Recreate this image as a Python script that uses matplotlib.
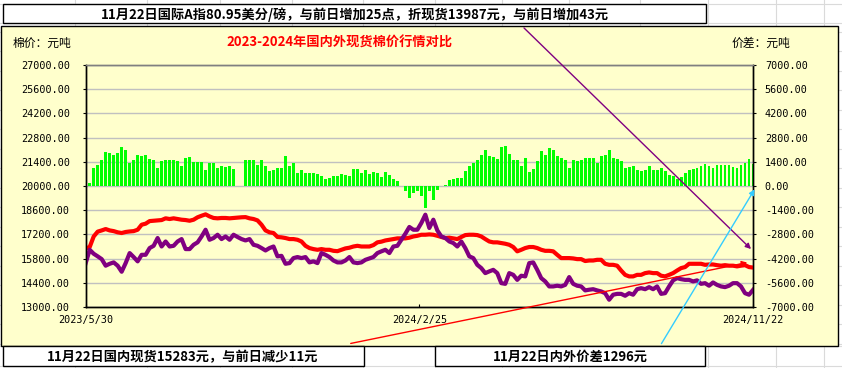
import numpy as np
import matplotlib.pyplot as plt
from matplotlib.patches import Rectangle, FancyArrowPatch
from matplotlib.lines import Line2D

plt.rcParams['font.family'] = ['Noto Sans CJK SC', 'DejaVu Sans']

# --- data ---
date_labels = ["2023/5/30", "2024/2/25", "2024/11/22"]

# domestic spot cotton price, yuan/ton (left axis)
domestic = [16390, 16470, 17080, 17360, 17430, 17510, 17430, 17390, 17320, 17280,
            17340, 17370, 17390, 17470, 17760, 17820, 17970, 17990, 18010, 18030,
            18130, 18090, 18130, 18090, 18050, 18030, 17990, 18050, 18190, 18280,
            18360, 18240, 18150, 18130, 18150, 18150, 18130, 18150, 18170, 18190,
            18200, 18130,
            18090, 18010, 17760, 17430, 17320, 17280, 17050, 17030, 16990, 16930,
            16930, 16890, 16790, 16540, 16410, 16350, 16310, 16350, 16310, 16310,
            16250, 16230, 16310, 16390, 16430, 16500, 16540, 16500, 16500, 16500,
            16580, 16740, 16780, 16850, 16890, 16930, 16970, 16970, 16970, 17010,
            17080, 17120,
            17180, 17180, 17200, 17180, 17120, 17050, 16990, 17010, 16970, 16930,
            17050, 17160, 17180, 17180, 17160, 17080, 16930, 16790, 16740, 16740,
            16700, 16660, 16600, 16470, 16220, 16310, 16410, 16470, 16470, 16410,
            16310, 16250, 16250, 16220, 16020, 15830, 15830, 15830, 15810, 15770,
            15770, 15660,
            15690, 15690, 15730, 15730, 15500, 15440, 15440, 15390, 15110, 14860,
            14770, 14770, 14860, 14860, 14960, 15000, 14960, 14960, 14810, 14770,
            14860, 14960, 15110, 15250, 15310, 15500, 15500, 15500, 15500, 15440,
            15460, 15460, 15420, 15390, 15420, 15390, 15390, 15350, 15390, 15420,
            15310, 15283]

# international A index converted to spot, yuan/ton (left axis)
international = [15540, 16310, 16080, 15930, 15770, 15390, 15500, 15580, 15390, 15040,
                 15540, 16120, 15890, 15640, 16020, 16020, 16410, 16540, 16990, 16500,
                 16790, 16500, 16540, 16790, 16930, 16350, 16350, 16600, 16740, 17080,
                 17470, 16890, 16990, 17180, 16930, 17080, 16890, 17180, 17050, 16930,
                 16850, 16930,
                 16600, 16540, 16410, 16270, 16410, 16500, 15930, 15960, 15500, 15540,
                 15830, 15890, 15830, 15890, 15580, 15640, 15540, 16120, 16020, 15890,
                 15690, 15580, 15580, 15690, 15890, 15580, 15540, 15580, 15730, 15810,
                 15890, 16120, 16220, 16310, 16120, 16500, 16540, 16890, 17240, 17630,
                 17470, 17470,
                 17860, 18340, 17570, 18050, 17430, 17080, 16990, 16790, 16700, 16500,
                 16790, 16410, 15930, 15830, 15440, 15250, 14960, 15060, 15150, 14960,
                 14380, 14340, 14960, 14860, 14570, 14810, 14770, 15540, 15580, 15150,
                 14670, 14480, 14190, 14190, 14230, 14190, 14280, 14730, 14340, 14230,
                 14190, 13960,
                 14000, 14030, 13960, 13900, 13800, 13420, 13710, 13760, 13760, 13650,
                 13800, 13710, 14030, 14090, 14030, 14150, 14030, 14190, 13760, 13800,
                 14190, 14540, 14670, 14610, 14570, 14570, 14480, 14540, 14340, 14380,
                 14230, 14420, 14280, 14190, 14150, 14230, 14380, 14380, 14190, 13800,
                 13710, 13987]

# domestic - international spread, yuan/ton (right axis); nan = holiday gap
spread = [750, 170, 1040, 1240, 1530, 1950, 1910, 1820, 1910, 2260,
          2100, 1330, 1530, 1820, 1760, 1820, 1560, 1490, 1040, 1430,
          1490, 1530, 1530, 1430, 1140, 1620, 1680, 1410, 1410, 1370,
          910, 1330, 1330, 1040, 1180, 1100, 1180, 980, np.nan, np.nan,
          1490, 1490,
          1490, 1240, 1530, 1140, 850, 910, 1040, 1040, 1720, 1140,
          1330, 750, 910, 750, 750, 750, 710, 560, 410, 460,
          600, 600, 680, 640, 560, 980, 980, 750, 910, 680,
          830, 750, 520, 790, 660, 410, 270, np.nan, -310, -700,
          -410, -310,
          -600, -1250, -310, -790, -210, -20, 80, 370, 410, 460,
          460, 850, 1140, 1330, 1530, 1820, 2070, 1760, 1680, 1560,
          2260, 2340, 1870, 1490, 1490, 1140, 1620, 790, 980, 1430,
          2010, 1820, 2200, 2070, 1760, 1620, 1530, 1040, 1490, 1430,
          1490, 1620,
          1620, 1620, 1330, 1760, 1820, 2070, 1620, 1560, 1430, 1040,
          1100, 1140, 950, 850, 910, 1140, 910, 950, 1040, 850,
          660, 560, 410, 520, 750, 910, 980, 1040, 1140, 1290,
          1180, 1040, 1240, 1240, 1240, 1220, 1100, 1040, 1240, 1330,
          1560, 1296]

W, H = 842, 368


# pixel -> figure fraction
def fx(px):
    return px / W


def fy(py):
    return 1 - py / H


fig = plt.figure(figsize=(W / 100, H / 100), dpi=100)
fig.patch.set_facecolor('white')

# spreadsheet cell grid behind everything
grid_c = '#DADADA'
for gx in [75, 147, 220, 292, 363, 435, 502, 569, 640, 708, 776, 824]:
    fig.add_artist(Line2D([fx(gx)] * 2, [0, 1], color=grid_c, lw=0.8, zorder=-5))
for gy in [4, 23, 346, 366] + list(np.arange(31.7, 346, 19.5)):
    fig.add_artist(Line2D([0, 1], [fy(gy)] * 2, color=grid_c, lw=0.8, zorder=-5))

# yellow chart panel
fig.add_artist(Rectangle((fx(1), fy(346)), fx(838) - fx(1), fy(26) - fy(346),
                         transform=fig.transFigure, facecolor='#FFFFCC',
                         edgecolor='black', lw=1, zorder=-2))

# --- plot area ---
x = np.arange(len(domestic))
ax_l = fig.add_axes([fx(85.7), fy(307), fx(753) - fx(85.7), fy(65) - fy(307)])
ax_r = ax_l.twinx()
ax_l.set_zorder(ax_r.get_zorder() + 1)
ax_l.patch.set_visible(False)
ax_r.patch.set_visible(False)

# spread bars on the right axis
ax_r.bar(x, spread, width=0.72, color='#00FF00', zorder=2)
ax_r.set_ylim(-7000, 7000)
ax_r.set_yticks(np.arange(-7000, 7001, 1400))
ax_r.set_yticklabels([f"{v:.2f}" for v in np.arange(-7000, 7001, 1400)])
ax_r.yaxis.grid(True, color='#C0C0C0', lw=1)
ax_r.set_axisbelow(True)

# price lines on the left axis
ax_l.plot(x, domestic, color='#FF0000', lw=3)
ax_l.plot(x, international, color='#800080', lw=3)
ax_l.set_ylim(13000, 27000)
ax_l.set_yticks(np.arange(13000, 27001, 1400))
ax_l.set_yticklabels([f"{v:.2f}" for v in np.arange(13000, 27001, 1400)])
ax_l.set_xlim(0, len(x) - 1)
ax_l.set_xticks([0, (len(x) - 1) / 2, len(x) - 1])
ax_l.set_xticklabels(date_labels)

tick_font = {'family': 'DejaVu Sans Mono', 'size': 7.3}
for ax in (ax_l, ax_r):
    for lab in ax.get_yticklabels() + ax.get_xticklabels():
        lab.set_fontfamily(tick_font['family'])
        lab.set_fontsize(tick_font['size'])
    for s in ax.spines.values():
        s.set_color('black')
        s.set_linewidth(1)
    ax.spines['top'].set_color('#808080')

ax_l.tick_params(axis='y', direction='out', length=2.5, pad=9)
ax_r.tick_params(axis='y', direction='out', length=2.5, pad=6)
ax_l.tick_params(axis='x', direction='in', length=2.5, pad=6)

# --- panel texts ---
fig.text(fx(13), fy(43), "棉价：元吨", fontsize=8.5, va='center', ha='left', zorder=3)
fig.text(fx(732), fy(43), "价差：元吨", fontsize=8.5, va='center', ha='left', zorder=3)
fig.text(fx(340), fy(43), "2023-2024年国内外现货棉价行情对比", fontsize=9.5,
         color='#FF0000', fontweight='bold', va='center', ha='center', zorder=3)

# --- info boxes ---
boxes = [((3, 4, 706, 23), "11月22日国际A指80.95美分/磅，与前日增加25点，折现货13987元，与前日增加43元", 355),
         ((3, 346, 364, 366), "11月22日国内现货15283元，与前日减少11元", 183),
         ((435, 346, 705, 366), "11月22日内外价差1296元", 570)]
for (x0, y0, x1, y1), txt, cx in boxes:
    fig.add_artist(Rectangle((fx(x0), fy(y1)), fx(x1) - fx(x0), fy(y0) - fy(y1),
                             transform=fig.transFigure, facecolor='white',
                             edgecolor='black', lw=1, zorder=2))
    fig.text(fx(cx), fy((y0 + y1) / 2 + 1), txt, fontsize=9.5, fontweight='bold',
             va='center', ha='center', zorder=3)

# --- decorative arrows drawn over the chart ---
arrows = [((522, 26), (753, 251), '#800080'),
          ((348, 344), (750, 262), '#FF0000'),
          ((660, 346), (756, 187), '#33CCFF')]
for (ax0, ay0), (ax1, ay1), col in arrows:
    fig.add_artist(FancyArrowPatch((fx(ax0), fy(ay0)), (fx(ax1), fy(ay1)),
                                   transform=fig.transFigure, arrowstyle='-|>',
                                   mutation_scale=8, color=col, lw=1, zorder=5))

fig.savefig("out.png", dpi=100)
